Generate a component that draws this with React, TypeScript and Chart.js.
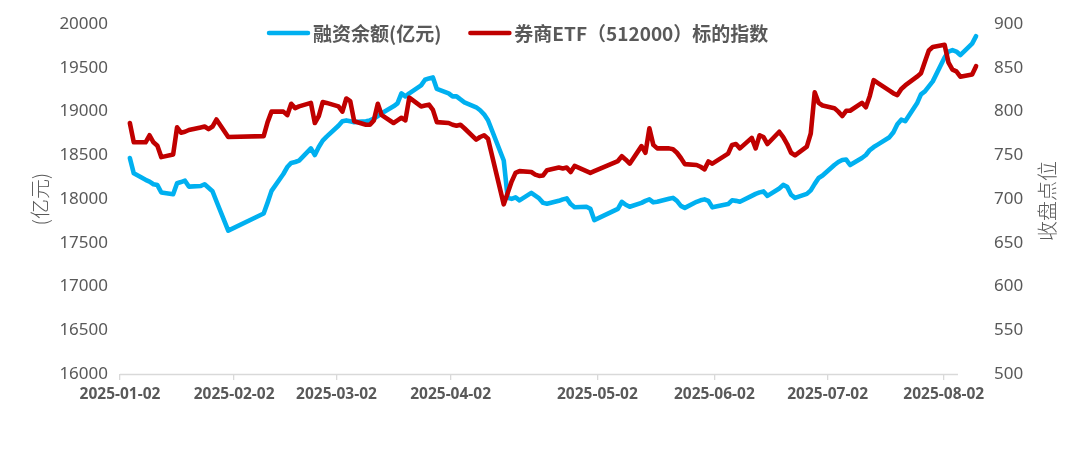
import React, { useEffect, useRef } from 'react';
import { Chart, registerables } from 'chart.js';

Chart.register(...registerables);

const YEAR = 2025;

const TRADE_DATES = [
  '01-02', '01-03', '01-06', '01-07', '01-08', '01-09', '01-10', '01-13', '01-14', '01-15', '01-16', '01-17',
  '01-20', '01-21', '01-22', '01-23', '01-24', '01-27',
  '02-05', '02-06', '02-07', '02-10', '02-11', '02-12', '02-13', '02-14', '02-17', '02-18', '02-19', '02-20',
  '02-21', '02-24', '02-25', '02-26', '02-27', '02-28',
  '03-03', '03-04', '03-05', '03-06', '03-07', '03-10', '03-11', '03-12', '03-13', '03-14', '03-17', '03-18',
  '03-19', '03-20', '03-21', '03-24', '03-25', '03-26', '03-27', '03-28', '03-31',
  '04-01', '04-02', '04-03', '04-07', '04-08', '04-09', '04-10', '04-11', '04-14', '04-15', '04-16', '04-17',
  '04-18', '04-21', '04-22', '04-23', '04-24', '04-25', '04-28', '04-29', '04-30',
  '05-06', '05-07', '05-08', '05-09', '05-12', '05-13', '05-14', '05-15', '05-16', '05-19', '05-20', '05-21',
  '05-22', '05-23', '05-26', '05-27', '05-28', '05-29', '05-30',
  '06-03', '06-04', '06-05', '06-06', '06-09', '06-10', '06-11', '06-12', '06-13', '06-16', '06-17', '06-18',
  '06-19', '06-20', '06-23', '06-24', '06-25', '06-26', '06-27', '06-30',
  '07-01', '07-02', '07-03', '07-04', '07-07', '07-08', '07-09', '07-10', '07-11', '07-14', '07-15', '07-16',
  '07-17', '07-18', '07-21', '07-22', '07-23', '07-24', '07-25', '07-28', '07-29', '07-30', '07-31',
  '08-01', '08-04', '08-05',
];

// 融资余额 (亿元), left axis
const MARGIN_BALANCE = [
  18470, 18295, 18220, 18200, 18170, 18160, 18075, 18056, 18182, 18195, 18211, 18143,
  18150, 18170, 18130, 18090, 17975, 17640,
  17835, 17960, 18094, 18287, 18367, 18413, 18424, 18441, 18580, 18504, 18595, 18669,
  18714, 18839, 18890, 18900, 18890, 18880,
  18890, 18900, 18920, 18950, 18982, 19061, 19095, 19209, 19175, 19209, 19300, 19365,
  19380, 19391, 19260, 19209, 19175, 19175, 19140, 19107, 19050,
  19016, 18970, 18902, 18441, 18014, 18003, 18020, 17986, 18071, 18040, 18008, 17957,
  17946, 17980, 17997, 18008, 17943, 17906, 17912, 17889, 17760,
  17889, 17969, 17935, 17912, 17957, 17980, 17997, 17963, 17969, 18003, 18014, 17980,
  17923, 17900, 17969, 17986, 17997, 17980, 17906,
  17943, 17986, 17980, 17969, 18037, 18060, 18077, 18088, 18037, 18122, 18162, 18140,
  18050, 18014, 18060, 18100, 18174, 18242, 18270, 18390,
  18424, 18447, 18452, 18390, 18470, 18504, 18561, 18595, 18623, 18708, 18765, 18856,
  18908, 18891, 19095, 19198, 19232, 19289, 19346, 19619, 19687, 19704, 19687,
  19647, 19778, 19863,
];

// 券商ETF（512000）标的指数 收盘点位, right axis
const BROKER_INDEX = [
  787, 765, 765, 773, 765, 761, 748, 751, 782, 776, 777, 779,
  782, 783, 780, 783, 791, 771,
  772, 788, 800, 800, 796, 809, 804, 806, 810, 787, 795, 811,
  810, 806, 800, 815, 812, 789,
  785, 785, 790, 809, 796, 787, 790, 793, 790, 816, 806, 807,
  808, 802, 788, 787, 785, 784, 785, 781, 768,
  771, 773, 769, 694, 707, 720, 730, 732, 731, 728, 726.5, 727,
  733, 736, 735, 736, 731, 738, 732, 730, 732,
  743.5, 749, 745, 740.5, 760.6, 753, 781, 762, 758, 758, 757, 753,
  747, 740, 739, 737, 734, 743, 740.5,
  752, 762, 763, 758, 770, 758, 773, 771, 763, 777, 771, 763,
  753, 750, 760, 775, 822, 810, 807, 804,
  800, 795, 801, 801, 810, 805, 818, 836, 833, 824, 821, 819,
  826, 830, 840, 844, 857, 870, 874, 876.5, 856, 848, 846,
  840, 842.5, 852,
];

const SERIES_NAMES = ['融资余额(亿元)', '券商ETF（512000）标的指数'];
const LEFT_TITLE = '(亿元)';
const RIGHT_TITLE = '收盘点位';
const X_TICK_LABELS = [
  '2025-01-02', '2025-02-02', '2025-03-02', '2025-04-02',
  '2025-05-02', '2025-06-02', '2025-07-02', '2025-08-02',
];
// positions (days after 2025-01-02) where the reference draws its axis labels
const X_TICK_DAYS = [-2.5, 26.5, 52.5, 81.5, 118.8, 148.5, 177.3, 206.8];
const X_MIN = -2.5;
const X_MAX = 216;
const X_AXIS_END = 210.4;

const BLUE = '#00B0F0';
const RED = '#C00000';
const TEXT = '#595959';

const dayOffset = (md: string) => {
  const [m, d] = md.split('-').map(Number);
  return (Date.UTC(YEAR, m - 1, d) - Date.UTC(YEAR, 0, 2)) / 86400000;
};

const overlayPlugin = {
  id: 'overlay',
  beforeDatasetsDraw(chart: any) {
    const { ctx, chartArea, scales } = chart;
    const xs = scales.x;
    ctx.save();
    ctx.strokeStyle = '#d9d9d9';
    ctx.lineWidth = 1.3;
    ctx.beginPath();
    ctx.moveTo(xs.left, chartArea.bottom + 0.5);
    ctx.lineTo(xs.getPixelForValue(X_AXIS_END), chartArea.bottom + 0.5);
    ctx.stroke();
    ctx.restore();
  },
  afterDraw(chart: any) {
    const { ctx, chartArea, width } = chart;
    const midY = (chartArea.top + chartArea.bottom) / 2;
    ctx.save();
    // axis titles (both read bottom-to-top)
    ctx.fillStyle = TEXT;
    ctx.font = "300 20px 'Noto Sans CJK SC', sans-serif";
    ctx.textAlign = 'center';
    ctx.textBaseline = 'middle';
    ctx.save();
    ctx.translate(40, midY);
    ctx.rotate(-Math.PI / 2);
    ctx.fillText(LEFT_TITLE, 0, 0);
    ctx.restore();
    ctx.save();
    ctx.translate(width - 39, midY + 2);
    ctx.rotate(-Math.PI / 2);
    ctx.fillText(RIGHT_TITLE, 0, 0);
    ctx.restore();

    // legend
    ctx.font = "bold 19px 'Noto Sans CJK SC', sans-serif";
    ctx.textAlign = 'left';
    ctx.textBaseline = 'middle';
    const ly = 33;
    let lx = 268;
    const items = [
      { color: BLUE, text: SERIES_NAMES[0] },
      { color: RED, text: SERIES_NAMES[1] },
    ];
    items.forEach((it) => {
      ctx.strokeStyle = it.color;
      ctx.lineWidth = 4.5;
      ctx.lineCap = 'round';
      ctx.beginPath();
      ctx.moveTo(lx + 1, ly);
      ctx.lineTo(lx + 40, ly);
      ctx.stroke();
      lx += 45;
      ctx.fillStyle = TEXT;
      ctx.fillText(it.text, lx, ly + 1);
      lx += ctx.measureText(it.text).width + 28;
    });
    ctx.restore();
  },
};

export default function App() {
  const canvasRef = useRef<HTMLCanvasElement | null>(null);

  useEffect(() => {
    document.body.style.margin = '0';
    document.body.style.overflow = 'hidden';
    const canvas = canvasRef.current;
    if (!canvas) return;
    const xs = TRADE_DATES.map(dayOffset);
    const lineStyle = {
      pointRadius: 0,
      pointHoverRadius: 0,
      borderWidth: 4.6,
      tension: 0,
      borderJoinStyle: 'round' as const,
      borderCapStyle: 'round' as const,
      fill: false,
    };
    const plainNumber = (v: any) => String(v);
    const chart = new Chart(canvas, {
      type: 'line',
      data: {
        datasets: [
          {
            label: SERIES_NAMES[1],
            data: xs.map((x, i) => ({ x, y: BROKER_INDEX[i] })),
            yAxisID: 'y1',
            borderColor: RED,
            backgroundColor: RED,
            ...lineStyle,
          },
          {
            label: SERIES_NAMES[0],
            data: xs.map((x, i) => ({ x, y: MARGIN_BALANCE[i] })),
            yAxisID: 'y',
            borderColor: BLUE,
            backgroundColor: BLUE,
            ...lineStyle,
          },
        ],
      },
      options: {
        animation: false,
        responsive: true,
        maintainAspectRatio: false,
        layout: { padding: { top: 23, left: 0, right: 0, bottom: 0 } },
        plugins: { legend: { display: false }, tooltip: { enabled: false } },
        scales: {
          x: {
            type: 'linear',
            min: X_MIN,
            max: X_MAX,
            afterBuildTicks: (s: any) => {
              s.ticks = X_TICK_DAYS.map((v) => ({ value: v }));
            },
            afterFit: (s: any) => {
              s.height = 93;
            },
            ticks: {
              autoSkip: false,
              maxRotation: 0,
              padding: 5,
              color: TEXT,
              font: { family: "'Noto Sans', 'Noto Sans CJK SC', sans-serif", size: 15.5, weight: 'bold' },
              callback: (_v: any, i: number) => X_TICK_LABELS[i],
            },
            grid: { drawOnChartArea: false, drawTicks: true, tickLength: 6, color: '#d9d9d9', lineWidth: 1.3 },
            border: { display: false },
          },
          y: {
            position: 'left',
            min: 16000,
            max: 20000,
            afterFit: (s: any) => {
              s.width = 120;
            },
            ticks: {
              stepSize: 500,
              padding: 12,
              color: TEXT,
              font: { family: "'Noto Sans', sans-serif", size: 17 },
              callback: plainNumber,
            },
            grid: { display: false, drawTicks: false },
            border: { display: false },
          },
          y1: {
            position: 'right',
            min: 500,
            max: 900,
            afterFit: (s: any) => {
              s.width = 106;
            },
            ticks: {
              stepSize: 50,
              padding: 14,
              color: TEXT,
              font: { family: "'Noto Sans', sans-serif", size: 17 },
              callback: plainNumber,
            },
            grid: { display: false, drawTicks: false },
            border: { display: false },
          },
        },
      },
      plugins: [overlayPlugin],
    });
    return () => chart.destroy();
  }, []);

  return (
    <div style={{ position: 'relative', width: 1086, height: 467 }}>
      <canvas ref={canvasRef} />
    </div>
  );
}
